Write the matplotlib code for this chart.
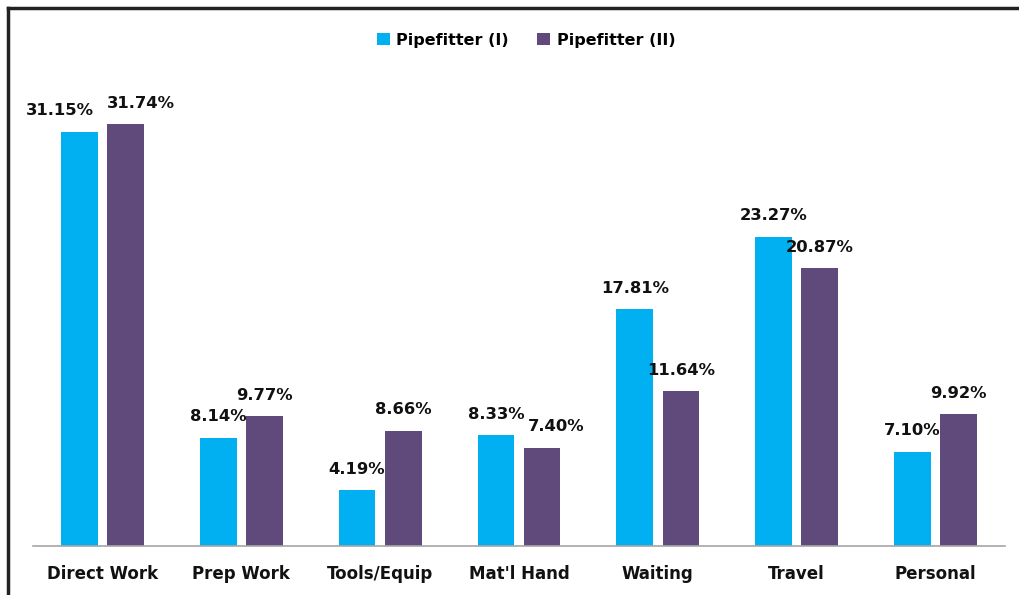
import numpy as np
import matplotlib
matplotlib.use("Agg")
import matplotlib.pyplot as plt
from matplotlib.lines import Line2D

categories = ["Direct Work", "Prep Work", "Tools/Equip", "Mat'l Hand", "Waiting", "Travel", "Personal"]
series_names = ["Pipefitter (I)", "Pipefitter (II)"]
pipefitter_1 = [31.15, 8.14, 4.19, 8.33, 17.81, 23.27, 7.10]
pipefitter_2 = [31.74, 9.77, 8.66, 7.40, 11.64, 20.87, 9.92]

colors = ["#00B0F0", "#604A7B"]
# horizontal nudges (in points) for a few labels that were moved by hand
nudge_1 = [-14, 0, 0, 0, 0, 0, 0]
nudge_2 = [11, 0, 0, 10, 0, 0, 0]

W, H = 1019, 595
fig = plt.figure(figsize=(W / 100, H / 100), dpi=100)
ax = fig.add_axes([33 / W, (H - 546) / H, (1005 - 33) / W, (546 - 80.5) / H])

x = np.arange(len(categories))
bw = 0.265
off = 0.166
b1 = ax.bar(x - off, pipefitter_1, bw, color=colors[0], label=series_names[0])
b2 = ax.bar(x + off, pipefitter_2, bw, color=colors[1], label=series_names[1])

for bars, vals, nud in [(b1, pipefitter_1, nudge_1), (b2, pipefitter_2, nudge_2)]:
    for b, v, n in zip(bars, vals, nud):
        ax.annotate(f"{v:.2f}%", (b.get_x() + b.get_width() / 2, v),
                    xytext=(n, 15), textcoords="offset points",
                    ha="center", va="center", fontsize=11.8, fontweight="bold",
                    color="#111111")

ax.set_xlim(-0.5, len(categories) - 0.5)
ax.set_ylim(0, 35)
ax.set_xticks(x)
ax.set_xticklabels(categories, fontsize=12, fontweight="bold", color="#111111")
ax.tick_params(axis="x", length=0, pad=14)
ax.set_yticks([])
for s in ["top", "right", "left"]:
    ax.spines[s].set_visible(False)
ax.spines["bottom"].set_color("#A6A6A6")
ax.spines["bottom"].set_linewidth(1.2)

leg = fig.legend(loc="center", bbox_to_anchor=(526 / W, 1 - 40 / H), ncol=2,
                 frameon=False, handlelength=0.8, handleheight=0.8,
                 handletextpad=0.4, columnspacing=1.8,
                 prop={"size": 11.5, "weight": "bold"})

# frame lines at top and left of the picture
fig.add_artist(Line2D([8 / W, 1], [1 - 8 / H, 1 - 8 / H], color="#222222", lw=2.5,
                      transform=fig.transFigure))
fig.add_artist(Line2D([8 / W, 8 / W], [0, 1 - 8 / H], color="#222222", lw=2.5,
                      transform=fig.transFigure))

fig.savefig("out.png", dpi=100)
